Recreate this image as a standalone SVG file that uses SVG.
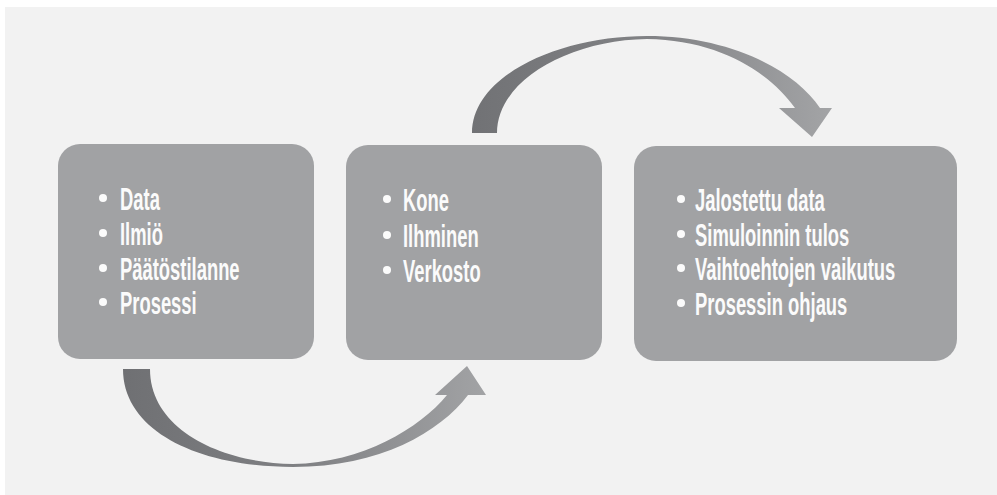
<svg xmlns="http://www.w3.org/2000/svg" width="997" height="495" viewBox="0 0 997 495">
<defs>
<style>
.box{fill:#a1a2a4}
.t{font-family:"Liberation Sans",Arial,sans-serif;font-size:32px;font-weight:bold;fill:#fbfbfb}
.b{fill:#fbfbfb}
</style>
<linearGradient id="gBot" x1="123" y1="0" x2="486" y2="0" gradientUnits="userSpaceOnUse">
<stop offset="0" stop-color="#6f7073"/>
<stop offset="0.5" stop-color="#808184"/>
<stop offset="1" stop-color="#a2a3a5"/>
</linearGradient>
<linearGradient id="gTop" x1="472" y1="0" x2="832" y2="0" gradientUnits="userSpaceOnUse">
<stop offset="0" stop-color="#717275"/>
<stop offset="0.5" stop-color="#818285"/>
<stop offset="1" stop-color="#a3a4a6"/>
</linearGradient>
</defs>
<rect x="0" y="0" width="997" height="495" fill="#ffffff"/>
<rect x="5" y="7" width="992" height="488" fill="#f2f2f2"/>
<g id="connectors">
<path fill="url(#gBot)" d="M123,369 C123,432 200,467 293,467 C380,467 440,432 468,395 L486,395 L467,366 L435,395 L447,395 C420,428 362,463 293,464 C222,463 150,430 150,369 Z"/>
<path fill="url(#gTop)" d="M472,133 C472,75 560,36 647,36 C730,36 795,70 820,108 L832,108 L812,137 L779,108 L795,108 C770,73 720,40 647,39 C570,40 497,80 497,133 Z"/>
</g>
<g id="node1">
<rect class="box" x="58" y="144" width="256" height="215" rx="22"/>
<circle class="b" cx="103" cy="198" r="4"/>
<circle class="b" cx="103" cy="233" r="4"/>
<circle class="b" cx="103" cy="268" r="4"/>
<circle class="b" cx="103" cy="302" r="4"/>
<text class="t" transform="translate(120,210) scale(0.575,1)">Data</text>
<text class="t" transform="translate(120,245) scale(0.575,1)">Ilmiö</text>
<text class="t" transform="translate(120,280) scale(0.575,1)">Päätöstilanne</text>
<text class="t" transform="translate(120,314) scale(0.575,1)">Prosessi</text>
</g>
<g id="node2">
<rect class="box" x="346" y="145" width="256" height="215" rx="22"/>
<circle class="b" cx="387" cy="199" r="4"/>
<circle class="b" cx="387" cy="235" r="4"/>
<circle class="b" cx="387" cy="270" r="4"/>
<text class="t" transform="translate(403,211) scale(0.575,1)">Kone</text>
<text class="t" transform="translate(403,247) scale(0.575,1)">Ilhminen</text>
<text class="t" transform="translate(403,282) scale(0.575,1)">Verkosto</text>
</g>
<g id="node3">
<rect class="box" x="634" y="146" width="323" height="215" rx="22"/>
<circle class="b" cx="681" cy="199" r="4"/>
<circle class="b" cx="681" cy="234" r="4"/>
<circle class="b" cx="681" cy="268" r="4"/>
<circle class="b" cx="681" cy="303" r="4"/>
<text class="t" transform="translate(695,211) scale(0.575,1)">Jalostettu data</text>
<text class="t" transform="translate(695,246) scale(0.575,1)">Simuloinnin tulos</text>
<text class="t" transform="translate(695,280) scale(0.575,1)">Vaihtoehtojen vaikutus</text>
<text class="t" transform="translate(695,315) scale(0.575,1)">Prosessin ohjaus</text>
</g>
</svg>
